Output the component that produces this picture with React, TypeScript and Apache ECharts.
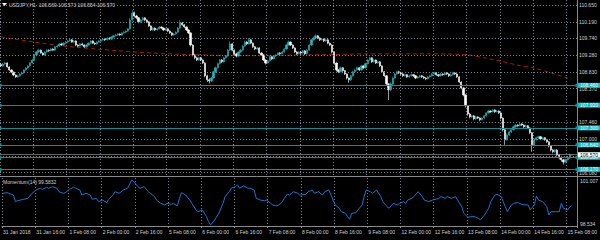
import React, { useEffect, useRef } from "react";
import * as echarts from "echarts";

const SYMBOL_TITLE = "USDJPY,H1";
const TITLE_OHLC = "106.569 106.573 106.554 106.570";
const MOM_TITLE = "Momentum(14) 99.5832";

const TIME_LABELS = [
  "31 Jan 2018", "31 Jan 16:00", "1 Feb 08:00", "2 Feb 00:00", "2 Feb 16:00", "5 Feb 08:00",
  "6 Feb 00:00", "6 Feb 16:00", "7 Feb 08:00", "8 Feb 00:00", "8 Feb 16:00", "9 Feb 08:00",
  "12 Feb 00:00", "12 Feb 16:00", "13 Feb 08:00", "14 Feb 00:00", "14 Feb 16:00", "15 Feb 08:00",
];

const FIRST_OPEN = 109.03;
const CLOSES = [
  108.99, 109.04, 109.07, 108.96, 108.88, 108.82, 108.74, 108.69, 108.72, 108.77, 108.80, 108.88, 108.93, 108.99, 109.07, 109.15,
  109.29, 109.37, 109.42, 109.34, 109.29, 109.37, 109.42, 109.40, 109.45, 109.42, 109.51, 109.53, 109.59, 109.56, 109.61, 109.64,
  109.67, 109.70, 109.64, 109.67, 109.56, 109.53, 109.59, 109.56, 109.51, 109.56, 109.61, 109.67, 109.61, 109.59, 109.64, 109.67,
  109.70, 109.72, 109.70, 109.75, 109.72, 109.78, 109.81, 109.83, 109.86, 109.83, 109.89, 109.91, 109.94, 110.00, 110.24, 110.43,
  110.35, 110.30, 110.19, 110.24, 110.30, 110.24, 110.19, 110.08, 109.97, 110.02, 109.97, 110.00, 110.05, 110.02, 109.97, 110.00,
  109.94, 109.89, 109.83, 109.86, 109.91, 110.02, 110.16, 110.11, 110.05, 109.97, 109.89, 109.56, 109.29, 109.21, 109.15, 109.21,
  109.15, 109.07, 108.72, 108.61, 108.58, 108.66, 108.83, 108.94, 109.05, 109.15, 109.10, 109.21, 109.26, 109.42, 109.59, 109.42,
  109.32, 109.26, 109.37, 109.42, 109.53, 109.64, 109.59, 109.70, 109.61, 109.51, 109.45, 109.48, 109.34, 109.29, 109.15, 109.07,
  109.13, 109.24, 109.18, 109.26, 109.29, 109.34, 109.32, 109.37, 109.45, 109.56, 109.64, 109.56, 109.48, 109.37, 109.32, 109.37,
  109.34, 109.40, 109.32, 109.42, 109.56, 109.70, 109.75, 109.81, 109.75, 109.70, 109.72, 109.67, 109.70, 109.61, 109.56, 109.37,
  109.07, 108.88, 108.83, 108.94, 108.86, 108.77, 108.66, 108.61, 108.72, 108.83, 108.88, 108.94, 108.88, 108.99, 108.94, 109.05,
  109.15, 109.21, 109.10, 109.15, 109.07, 109.10, 108.99, 108.83, 108.72, 108.50, 108.34, 108.50, 108.66, 108.77, 108.83, 108.80,
  108.77, 108.72, 108.75, 108.69, 108.72, 108.75, 108.72, 108.66, 108.69, 108.72, 108.69, 108.66, 108.64, 108.69, 108.72, 108.77,
  108.80, 108.75, 108.72, 108.77, 108.75, 108.80, 108.77, 108.72, 108.75, 108.80, 108.77, 108.69, 108.55, 108.39, 108.20, 107.90,
  107.68, 107.60, 107.63, 107.55, 107.60, 107.57, 107.52, 107.57, 107.63, 107.71, 107.76, 107.74, 107.79, 107.74, 107.76, 107.71,
  107.57, 107.25, 106.98, 107.11, 107.19, 107.25, 107.33, 107.38, 107.36, 107.41, 107.38, 107.33, 107.36, 107.30, 107.17, 106.84,
  106.98, 107.03, 107.06, 107.00, 107.03, 106.98, 106.92, 106.81, 106.70, 106.65, 106.70, 106.56, 106.48, 106.43, 106.37, 106.43,
  106.48, 106.569, 106.570,
];
const HIGHS = [
  109.07, 109.07, 109.10, 109.09, 108.98, 108.90, 108.84, 108.76, 108.75, 108.79, 108.83, 108.90, 108.96, 109.01, 109.09, 109.18,
  109.31, 109.40, 109.46, 109.44, 109.36, 109.39, 109.45, 109.44, 109.48, 109.47, 109.53, 109.56, 109.61, 109.62, 109.64, 109.67,
  109.70, 109.73, 109.72, 109.69, 109.69, 109.58, 109.61, 109.62, 109.58, 109.58, 109.63, 109.69, 109.69, 109.63, 109.66, 109.70,
  109.72, 109.75, 109.74, 109.77, 109.77, 109.80, 109.83, 109.86, 109.88, 109.88, 109.91, 109.94, 109.96, 110.02, 110.30, 110.51,
  110.47, 110.38, 110.32, 110.27, 110.33, 110.32, 110.26, 110.21, 110.10, 110.05, 110.04, 110.03, 110.08, 110.07, 110.04, 110.03,
  110.02, 109.96, 109.91, 109.89, 109.93, 110.05, 110.24, 110.19, 110.13, 110.07, 110.00, 109.91, 109.58, 109.32, 109.24, 109.24,
  109.23, 109.17, 109.09, 108.75, 108.65, 108.69, 108.86, 108.97, 109.08, 109.18, 109.18, 109.24, 109.29, 109.45, 109.66, 109.61,
  109.44, 109.35, 109.39, 109.45, 109.56, 109.68, 109.67, 109.75, 109.72, 109.63, 109.53, 109.51, 109.50, 109.37, 109.31, 109.17,
  109.16, 109.26, 109.27, 109.28, 109.32, 109.36, 109.37, 109.40, 109.48, 109.59, 109.68, 109.66, 109.58, 109.50, 109.40, 109.39,
  109.39, 109.42, 109.42, 109.45, 109.59, 109.73, 109.79, 109.85, 109.83, 109.77, 109.75, 109.74, 109.73, 109.72, 109.63, 109.58,
  109.39, 109.09, 108.91, 108.97, 108.96, 108.88, 108.79, 108.68, 108.75, 108.86, 108.91, 108.97, 108.96, 109.02, 109.01, 109.08,
  109.18, 109.24, 109.23, 109.18, 109.17, 109.13, 109.12, 109.01, 108.85, 108.74, 108.52, 108.54, 108.69, 108.80, 108.86, 108.86,
  108.83, 108.79, 108.78, 108.77, 108.75, 108.78, 108.77, 108.74, 108.72, 108.75, 108.74, 108.71, 108.68, 108.72, 108.75, 108.80,
  108.83, 108.82, 108.77, 108.80, 108.79, 108.83, 108.82, 108.79, 108.78, 108.83, 108.82, 108.79, 108.71, 108.57, 108.41, 108.22,
  107.92, 107.71, 107.66, 107.65, 107.63, 107.62, 107.59, 107.60, 107.65, 107.73, 107.79, 107.78, 107.82, 107.81, 107.79, 107.78,
  107.73, 107.59, 107.27, 107.15, 107.22, 107.28, 107.36, 107.41, 107.40, 107.44, 107.43, 107.40, 107.39, 107.38, 107.32, 107.19,
  107.01, 107.06, 107.09, 107.08, 107.06, 107.05, 107.00, 106.94, 106.83, 106.73, 106.73, 106.72, 106.58, 106.50, 106.45, 106.46,
  106.51, 106.60, 106.573,
];
const LOWS = [
  108.96, 108.97, 109.02, 108.94, 108.85, 108.79, 108.71, 108.66, 108.67, 108.70, 108.75, 108.78, 108.86, 108.91, 108.97, 109.05,
  109.13, 109.27, 109.35, 109.32, 109.26, 109.27, 109.35, 109.37, 109.38, 109.40, 109.40, 109.49, 109.51, 109.54, 109.54, 109.59,
  109.62, 109.65, 109.62, 109.61, 109.53, 109.50, 109.51, 109.54, 109.48, 109.49, 109.54, 109.59, 109.59, 109.56, 109.57, 109.62,
  109.65, 109.68, 109.67, 109.68, 109.70, 109.70, 109.76, 109.79, 109.81, 109.81, 109.81, 109.87, 109.89, 109.92, 109.98, 110.20,
  110.31, 110.26, 110.15, 110.16, 110.22, 110.21, 110.16, 110.05, 109.94, 109.95, 109.94, 109.95, 109.98, 109.99, 109.94, 109.95,
  109.91, 109.86, 109.80, 109.81, 109.84, 109.89, 110.00, 110.08, 110.02, 109.94, 109.86, 109.52, 109.25, 109.17, 109.12, 109.13,
  109.12, 109.04, 108.68, 108.55, 108.51, 108.55, 108.64, 108.80, 108.92, 109.03, 109.07, 109.08, 109.18, 109.24, 109.40, 109.39,
  109.29, 109.22, 109.24, 109.35, 109.40, 109.51, 109.56, 109.57, 109.58, 109.48, 109.42, 109.43, 109.31, 109.26, 109.12, 109.03,
  109.05, 109.11, 109.15, 109.16, 109.24, 109.27, 109.29, 109.30, 109.35, 109.43, 109.54, 109.53, 109.45, 109.34, 109.29, 109.30,
  109.31, 109.32, 109.29, 109.30, 109.40, 109.54, 109.68, 109.73, 109.72, 109.67, 109.68, 109.64, 109.65, 109.58, 109.53, 109.33,
  109.02, 108.84, 108.79, 108.81, 108.83, 108.74, 108.62, 108.53, 108.58, 108.70, 108.81, 108.86, 108.85, 108.86, 108.91, 108.92,
  109.03, 109.13, 109.07, 109.08, 109.04, 109.05, 108.96, 108.80, 108.69, 108.45, 108.06, 108.30, 108.47, 108.64, 108.75, 108.77,
  108.74, 108.69, 108.70, 108.66, 108.67, 108.70, 108.69, 108.63, 108.64, 108.67, 108.66, 108.63, 108.60, 108.62, 108.67, 108.70,
  108.75, 108.72, 108.69, 108.70, 108.72, 108.73, 108.74, 108.69, 108.70, 108.73, 108.74, 108.66, 108.52, 108.35, 108.16, 107.86,
  107.63, 107.56, 107.57, 107.51, 107.52, 107.54, 107.48, 107.50, 107.55, 107.61, 107.69, 107.71, 107.72, 107.71, 107.72, 107.68,
  107.53, 107.20, 106.84, 106.95, 107.08, 107.16, 107.23, 107.31, 107.33, 107.34, 107.35, 107.30, 107.31, 107.27, 107.13, 106.65,
  106.80, 106.95, 107.00, 106.97, 106.98, 106.95, 106.89, 106.77, 106.66, 106.61, 106.62, 106.52, 106.44, 106.38, 106.30, 106.35,
  106.41, 106.46, 106.554,
];

const MA_IDX = [0, 16, 32, 48, 64, 80, 96, 112, 128, 144, 160, 176, 192, 208, 224, 232, 240, 248, 256, 264, 272, 274];
const MA_VAL = [109.78, 109.64, 109.52, 109.44, 109.37, 109.32, 109.29, 109.27, 109.27, 109.29, 109.30, 109.32, 109.32, 109.32, 109.29, 109.21, 109.12, 109.01, 108.93, 108.80, 108.66, 108.63];

const MOM_IDX = [
  0, 2, 5, 6, 7, 10, 12, 14, 16, 18, 19, 21, 22, 24, 26, 27, 29, 30, 32, 34, 35, 37, 38, 40, 42, 43, 45, 46, 48, 50,
  51, 53, 54, 56, 58, 60, 62, 63, 65, 66, 68, 70, 71, 73, 74, 76, 78, 79, 81, 82, 84, 85, 86, 88, 90, 91, 93, 94, 96, 98,
  99, 100, 102, 104, 106, 107, 109, 110, 112, 113, 114, 116, 118, 119, 121, 122, 124, 126, 127, 129, 130, 132, 134, 135, 137, 138, 140, 142, 143,
  144, 146, 147, 149, 150, 152, 154, 155, 157, 158, 160, 162, 163, 165, 166, 167, 168, 170, 171, 173, 174, 175, 177, 178, 180, 182, 183, 185, 186, 188,
  190, 191, 193, 194, 195, 197, 198, 200, 202, 203, 205, 207, 210, 211, 213, 214, 216, 218, 219, 221, 222, 224, 226, 227, 229, 230, 232, 234, 235, 237,
  238, 240, 242, 243, 245, 246, 248, 250, 251, 253, 254, 256, 257, 258, 260, 262, 263, 264, 265, 266, 268, 269, 270, 272, 273, 274,
];
const MOM_VAL = [
  100.22, 100.25, 100.13, 99.79, 99.84, 99.91, 99.96, 100.22, 100.39, 100.48, 100.42, 100.53, 100.48, 100.56, 100.48, 100.30, 100.22, 100.25, 100.42, 100.53, 100.48, 100.39, 100.13, 100.22, 100.13, 99.91, 99.96, 99.79, 99.87, 99.74,
  99.91, 100.13, 100.30, 100.22, 100.39, 100.48, 100.90, 100.82, 100.56, 100.48, 100.56, 100.30, 100.22, 100.05, 99.87, 99.70, 99.62, 99.70, 99.65, 99.70, 99.57, 99.96, 100.25, 100.13, 99.87, 99.70, 99.36, 99.27, 99.36, 99.02,
  98.76, 98.59, 98.85, 99.19, 99.70, 100.05, 100.30, 100.48, 100.56, 100.65, 100.48, 100.60, 100.48, 100.48, 100.39, 99.96, 99.87, 99.84, 99.87, 99.70, 99.62, 99.57, 99.70, 99.87, 100.18, 100.13, 100.30, 100.22, 100.13,
  100.13, 100.18, 100.30, 100.39, 100.22, 100.30, 100.13, 100.30, 100.39, 100.13, 99.62, 99.45, 99.27, 99.19, 99.02, 98.88, 99.19, 99.22, 99.36, 99.62, 100.05, 100.39, 100.30, 100.22, 100.39, 100.05, 99.79, 99.53, 99.45, 99.70,
  99.62, 99.70, 99.79, 99.70, 99.87, 99.96, 100.05, 100.30, 100.05, 99.87, 99.79, 99.87, 99.96, 100.05, 99.96, 100.05, 99.96, 100.05, 99.87, 99.53, 99.19, 98.98, 99.02, 99.02, 98.93, 98.85, 99.10, 99.45, 99.79, 100.13,
  100.17, 100.05, 99.53, 99.27, 99.62, 99.70, 99.74, 99.65, 99.62, 99.62, 99.36, 99.62, 100.08, 99.87, 99.79, 99.53, 99.10, 99.27, 99.27, 99.27, 99.27, 99.70, 99.45, 99.36, 99.50, 99.58,
];
const MOM_SCALE = [101.007, 98.534];

const PRICE_TICKS = [110.65, 110.19, 109.74, 109.28, 108.83, 108.37, 107.92, 107.46, 107.0, 106.54, 106.08];
const HIDDEN_TICK_LABELS = [107.92, 106.54];
const HLINES = [108.456, 107.919, 107.296, 106.842, 106.503, 106.17];
const BID = 106.57;

const N_SLOTS = 277;
const PRICE_MIN = 105.99;
const PRICE_MAX = 110.786;

const FONT = "Liberation Sans";
const TXT = "#d2d2d2";
const GRID = "#78838e";

export default function App() {
  const ref = useRef<HTMLDivElement>(null);

  useEffect(() => {
    document.body.style.margin = "0";
    const el = ref.current;
    if (!el) return;
    const chart = echarts.init(el, null, { renderer: "svg" });

    const slots = Array.from({ length: N_SLOTS }, (_, i) => String(i));
    const candles = CLOSES.map((c, i) => {
      const o = i === 0 ? FIRST_OPEN : CLOSES[i - 1];
      return [o, c, LOWS[i], HIGHS[i]];
    });
    const ma = MA_IDX.map((x, i) => [x, MA_VAL[i]]);
    const mom = MOM_IDX.map((x, i) => [x, MOM_VAL[i]]);

    const dotted = { color: GRID, type: [1, 2] as any, width: 1 };

    chart.setOption({
      animation: false,
      backgroundColor: "#000000",
      grid: [
        { left: 0, top: 0, width: 577, height: 176 },
        { left: 0, top: 178, width: 577, height: 48 },
      ],
      xAxis: [
        {
          type: "category", gridIndex: 0, data: slots, boundaryGap: true,
          axisLine: { show: false }, axisTick: { show: false }, axisLabel: { show: false },
          splitLine: { show: true, interval: 15, lineStyle: dotted },
        },
        {
          type: "category", gridIndex: 1, data: slots, boundaryGap: true,
          axisLine: { show: true, lineStyle: { color: "#8a8a8a", width: 1 } },
          axisTick: { show: true, interval: 15, length: 2, lineStyle: { color: "#8a8a8a" } },
          axisLabel: {
            show: true, interval: 15, align: "left", margin: 3, color: TXT, fontSize: 5, fontFamily: FONT,
            formatter: (_v: string, idx: number) => (idx % 16 === 0 ? TIME_LABELS[idx / 16] ?? "" : ""),
          },
          splitLine: { show: true, interval: 15, lineStyle: dotted },
        },
      ],
      yAxis: [
        {
          type: "value", gridIndex: 0, min: PRICE_MIN, max: PRICE_MAX, position: "right",
          axisLine: { show: false }, axisTick: { show: false }, axisLabel: { show: false }, splitLine: { show: false },
        },
        {
          type: "value", gridIndex: 1, min: MOM_SCALE[1], max: MOM_SCALE[0], position: "right",
          axisLine: { show: false }, axisTick: { show: false }, axisLabel: { show: false }, splitLine: { show: false },
        },
      ],
      series: [
        {
          type: "line", xAxisIndex: 0, yAxisIndex: 0, data: [], z: 1, silent: true,
          markLine: {
            silent: true, symbol: "none", animation: false,
            lineStyle: dotted,
            label: {
              position: "end", distance: 2, color: TXT, fontSize: 5, fontFamily: FONT,
              formatter: (p: any) => Number(p.value).toFixed(3),
            },
            data: PRICE_TICKS.map((v) =>
              HIDDEN_TICK_LABELS.includes(v) ? { yAxis: v, label: { show: false } } : { yAxis: v }
            ),
          },
        },
        {
          type: "line", xAxisIndex: 0, yAxisIndex: 0, data: ma, z: 2, smooth: 0.3,
          showSymbol: false, symbol: "none",
          lineStyle: { color: "#b01414", width: 1, type: [4, 3] as any },
        },
        {
          type: "candlestick", xAxisIndex: 0, yAxisIndex: 0, data: candles, z: 3,
          barWidth: 1.7,
          itemStyle: {
            color: "#1fb8c0", color0: "#ffffff",
            borderColor: "#1fb8c0", borderColor0: "#ffffff", borderWidth: 0.6,
          },
        },
        {
          type: "line", xAxisIndex: 0, yAxisIndex: 0, data: [], z: 4, silent: true,
          markLine: {
            silent: true, symbol: ["rect", "rect"], symbolSize: 3, animation: false,
            lineStyle: { color: "#0f9097", type: "solid", width: 1 },
            label: {
              position: "end", distance: 1, color: "#e8ffff", backgroundColor: "#19bcc4",
              padding: [0, 3, 0, 2], fontSize: 5, fontFamily: FONT,
              formatter: (p: any) => Number(p.value).toFixed(3),
            },
            data: HLINES.map((v) => ({ yAxis: v })),
          },
        },
        {
          type: "line", xAxisIndex: 0, yAxisIndex: 0, data: [], z: 5, silent: true,
          markLine: {
            silent: true, symbol: "none", animation: false,
            lineStyle: { color: "#a8a8a8", type: "solid", width: 0.6 },
            label: {
              position: "end", distance: 1, color: "#000000", backgroundColor: "#ffffff",
              padding: [0, 3, 0, 2], fontSize: 5, fontFamily: FONT,
              formatter: (p: any) => Number(p.value).toFixed(3),
            },
            data: [{ yAxis: BID }],
          },
        },
        {
          type: "line", xAxisIndex: 1, yAxisIndex: 1, data: mom, z: 3,
          showSymbol: false, symbol: "none",
          lineStyle: { color: "#1c74d2", width: 1 },
        },
      ],
      graphic: [
        { type: "line", shape: { x1: 577.5, y1: 0, x2: 577.5, y2: 227 }, style: { stroke: "#8a8a8a", lineWidth: 1 }, silent: true },
        { type: "line", shape: { x1: 0, y1: 176.5, x2: 600, y2: 176.5 }, style: { stroke: "#8a8a8a", lineWidth: 1 }, silent: true },
        { type: "polygon", shape: { points: [[2, 3], [7, 3], [4.5, 6]] }, style: { fill: "#ffffff" }, silent: true },
        { type: "text", x: 9, y: 2, style: { text: SYMBOL_TITLE + "  " + TITLE_OHLC, fill: TXT, fontSize: 5, fontFamily: FONT, verticalAlign: "top" }, silent: true },
        { type: "text", x: 3, y: 179, style: { text: MOM_TITLE, fill: TXT, fontSize: 5, fontFamily: FONT, verticalAlign: "top" }, silent: true },
        { type: "text", x: 580, y: 178.5, style: { text: MOM_SCALE[0].toFixed(3), fill: TXT, fontSize: 5, fontFamily: FONT, verticalAlign: "top" }, silent: true },
        { type: "text", x: 580, y: 226.5, style: { text: MOM_SCALE[1].toFixed(3), fill: TXT, fontSize: 5, fontFamily: FONT, verticalAlign: "bottom" }, silent: true },
      ],
    });

    return () => chart.dispose();
  }, []);

  return <div ref={ref} style={{ width: 600, height: 240, background: "#000" }} />;
}
